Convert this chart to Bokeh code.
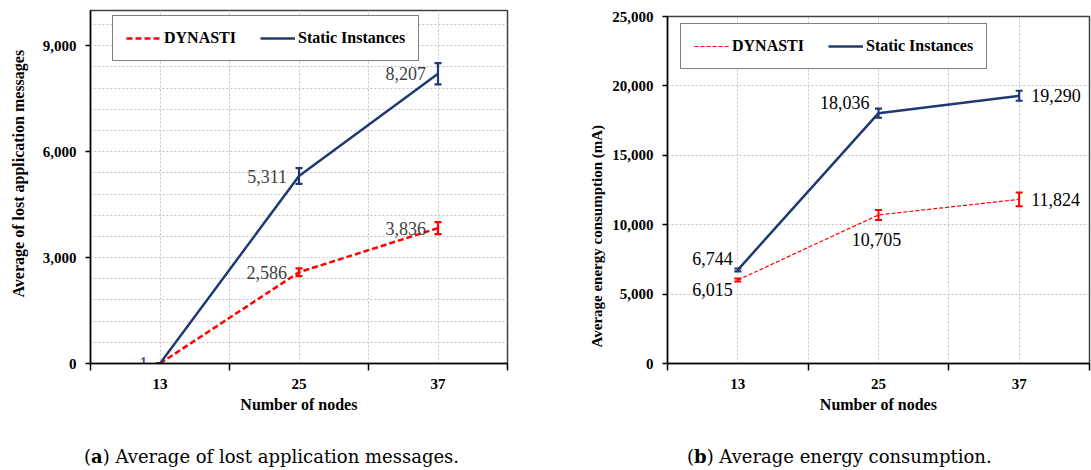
import math
from bokeh.plotting import figure
from bokeh.models import (Range1d, FixedTicker, SingleIntervalTicker, NumeralTickFormatter,
                          ColumnDataSource, Whisker, TeeHead, Legend, LegendItem, Title, Div)
from bokeh.layouts import row, column
from bokeh.core.properties import value, field
from bokeh.embed import file_html
from bokeh.resources import INLINE

# ---------------- data ----------------
nodes = [13, 25, 37]
series_names = ["DYNASTI", "Static Instances"]

lost_dynasti = [1, 2586, 3836]
lost_static = [1, 5311, 8207]
lost_dynasti_err = [0, 110, 170]
lost_static_err = [0, 225, 300]
lost_dynasti_labels = ["1", "2,586", "3,836"]
lost_static_labels = ["", "5,311", "8,207"]
lost_y_ticks = [0, 3000, 6000, 9000]

energy_dynasti = [6015, 10705, 11824]
energy_static = [6744, 18036, 19290]
energy_dynasti_err = [100, 360, 500]
energy_static_err = [100, 330, 360]
energy_dynasti_labels = ["6,015", "10,705", "11,824"]
energy_static_labels = ["6,744", "18,036", "19,290"]
energy_y_ticks = [0, 5000, 10000, 15000, 20000, 25000]

caption_a = ("a", "Average of lost application messages.")
caption_b = ("b", "Average energy consumption.")
y_title_a = "Average of lost application messages"
y_title_b = "Average energy consumption (mA)"
x_title = "Number of nodes"

# ---------------- styles ----------------
FONT = "Liberation Serif"
RED = "#ff0000"
NAVY = "#1f3a70"


def make_panel(width, height, mb_left, mb_right, mb_top, mb_bottom, y_max, y_ticks, grid_step,
               dyn, sta, dyn_err, sta_err, dyn_lbl, sta_lbl, dyn_pos, sta_pos, lbl_color,
               dyn_style, ytitle, ytitle_size, ytitle_offset, ytitle_standoff, legend_loc,
               margin):
    p = figure(width=width, height=height, output_backend="svg", toolbar_location=None,
               x_range=Range1d(7, 43), y_range=Range1d(0, y_max),
               min_border_left=mb_left, min_border_right=mb_right,
               min_border_top=mb_top, min_border_bottom=mb_bottom, margin=margin)
    p.background_fill_color = "white"
    p.border_fill_color = "white"
    p.outline_line_color = "#404040"
    p.outline_line_width = 1.5

    # grids
    p.xgrid.ticker = FixedTicker(ticks=[13, 19, 25, 31, 37])
    p.ygrid.ticker = SingleIntervalTicker(interval=grid_step)
    for g in (p.xgrid, p.ygrid):
        g.grid_line_color = "#c4c4c4"
        g.grid_line_dash = "2 2"
        g.grid_line_width = 1

    # x axis
    xa = p.xaxis[0]
    xa.ticker = FixedTicker(ticks=nodes, minor_ticks=[7, 19, 31, 43])
    xa.major_tick_line_color = None
    xa.major_tick_out = 0
    xa.major_tick_in = 0
    xa.minor_tick_line_color = "black"
    xa.minor_tick_line_width = 1.5
    xa.minor_tick_out = 7
    xa.minor_tick_in = 0
    xa.major_label_standoff = 8
    xa.axis_label = x_title
    xa.axis_label_standoff = 4
    # y axis
    ya = p.yaxis[0]
    ya.ticker = FixedTicker(ticks=y_ticks)
    ya.formatter = NumeralTickFormatter(format="0,0")
    ya.major_tick_out = 5
    ya.major_tick_in = 0
    ya.major_tick_line_width = 1.5
    ya.minor_tick_line_color = None
    ya.major_label_standoff = 9
    for ax in (xa, ya):
        ax.axis_line_color = "black"
        ax.axis_line_width = 1.5
        ax.major_label_text_font = FONT
        ax.major_label_text_font_style = "bold"
        ax.major_label_text_font_size = "15px"
        ax.major_label_text_color = "black"
        ax.axis_label_text_font = FONT
        ax.axis_label_text_font_style = "bold"
        ax.axis_label_text_font_size = "16px"
        ax.axis_label_text_color = "black"

    # lines
    r_dyn = p.line(nodes, dyn, line_color=RED, line_width=dyn_style[0], line_dash=dyn_style[1])
    r_sta = p.line(nodes, sta, line_color=NAVY, line_width=2.5)

    # error bars
    for vals, errs, col, lw in ((dyn, dyn_err, RED, dyn_style[2]), (sta, sta_err, NAVY, 2.2)):
        src = ColumnDataSource(dict(x=nodes,
                                    upper=[v + e for v, e in zip(vals, errs)],
                                    lower=[v - e for v, e in zip(vals, errs)]))
        w = Whisker(source=src, base="x", upper="upper", lower="lower",
                    line_color=col, line_width=lw,
                    upper_head=TeeHead(size=7, line_color=col, line_width=lw),
                    lower_head=TeeHead(size=7, line_color=col, line_width=lw))
        p.add_layout(w)

    # data labels
    for vals, lbls, pos in ((dyn, dyn_lbl, dyn_pos), (sta, sta_lbl, sta_pos)):
        src = ColumnDataSource(dict(x=nodes, y=vals, t=lbls,
                                    xo=[q[0] for q in pos], yo=[q[1] for q in pos],
                                    al=[q[2] for q in pos]))
        p.text(x="x", y="y", text="t", source=src, x_offset="xo", y_offset="yo",
               text_align=field("al"), text_baseline="middle",
               text_font=value(FONT), text_font_size="18px", text_color=lbl_color)

    # y title (left side, positioned along the axis)
    p.add_layout(Title(text=ytitle, align="left", offset=ytitle_offset, standoff=ytitle_standoff,
                       text_font=FONT, text_font_style="bold", text_font_size=ytitle_size,
                       text_color="black"), "left")

    # legend
    leg = Legend(items=[LegendItem(label=series_names[0], renderers=[r_dyn]),
                        LegendItem(label=series_names[1], renderers=[r_sta])],
                 orientation="horizontal", location=legend_loc,
                 padding=13, spacing=24, glyph_width=35, glyph_height=18, label_standoff=3,
                 border_line_color="black", border_line_width=1.5,
                 background_fill_color="white", background_fill_alpha=1.0,
                 label_text_font=FONT, label_text_font_style="bold",
                 label_text_font_size="16px", label_text_color="black")
    p.add_layout(leg)
    return p


pa = make_panel(width=574, height=430, mb_left=96, mb_right=55, mb_top=10, mb_bottom=67,
                y_max=10000, y_ticks=lost_y_ticks, grid_step=600,
                dyn=lost_dynasti, sta=lost_static, dyn_err=lost_dynasti_err, sta_err=lost_static_err,
                dyn_lbl=lost_dynasti_labels, sta_lbl=lost_static_labels,
                dyn_pos=[(-12, 0, "right")] * 3, sta_pos=[(-12, 0, "right")] * 3,
                lbl_color="#404040", dyn_style=(2.5, "6 3", 2.2),
                ytitle=y_title_a, ytitle_size="16px", ytitle_offset=66, ytitle_standoff=26,
                legend_loc=(22, 302), margin=(0, 0, 0, -6))

pb = make_panel(width=523, height=430, mb_left=99, mb_right=2, mb_top=16, mb_bottom=67,
                y_max=25000, y_ticks=energy_y_ticks, grid_step=5000,
                dyn=energy_dynasti, sta=energy_static, dyn_err=energy_dynasti_err,
                sta_err=energy_static_err,
                dyn_lbl=energy_dynasti_labels, sta_lbl=energy_static_labels,
                dyn_pos=[(-5, 9, "right"), (-2, 25, "center"), (12, 0, "left")],
                sta_pos=[(-5, -11, "right"), (-9, -11, "right"), (12, 0, "left")],
                lbl_color="black", dyn_style=(1.2, "4 2", 2.0),
                ytitle=y_title_b, ytitle_size="15px", ytitle_offset=16, ytitle_standoff=10,
                legend_loc=(13, 294), margin=(0, 0, 0, 0))


def caption(letter, text, width, pad_left):
    html = ('<div style="font-family:\'DejaVu Serif\';font-size:18px;line-height:16px;'
            'white-space:nowrap;padding-top:19px;padding-left:%dpx;color:black;">'
            '(<b>%s</b>) %s</div>' % (pad_left, letter, text))
    return Div(text=html, width=width, height=40, margin=(0, 0, 0, 0))


da = caption(caption_a[0], caption_a[1], 568, 84)
db = caption(caption_b[0], caption_b[1], 523, 119)

layout = column(row(column(pa), column(pb), spacing=0), row(da, db, spacing=0), spacing=0)
open("out.html", "w").write(file_html(layout, INLINE))
